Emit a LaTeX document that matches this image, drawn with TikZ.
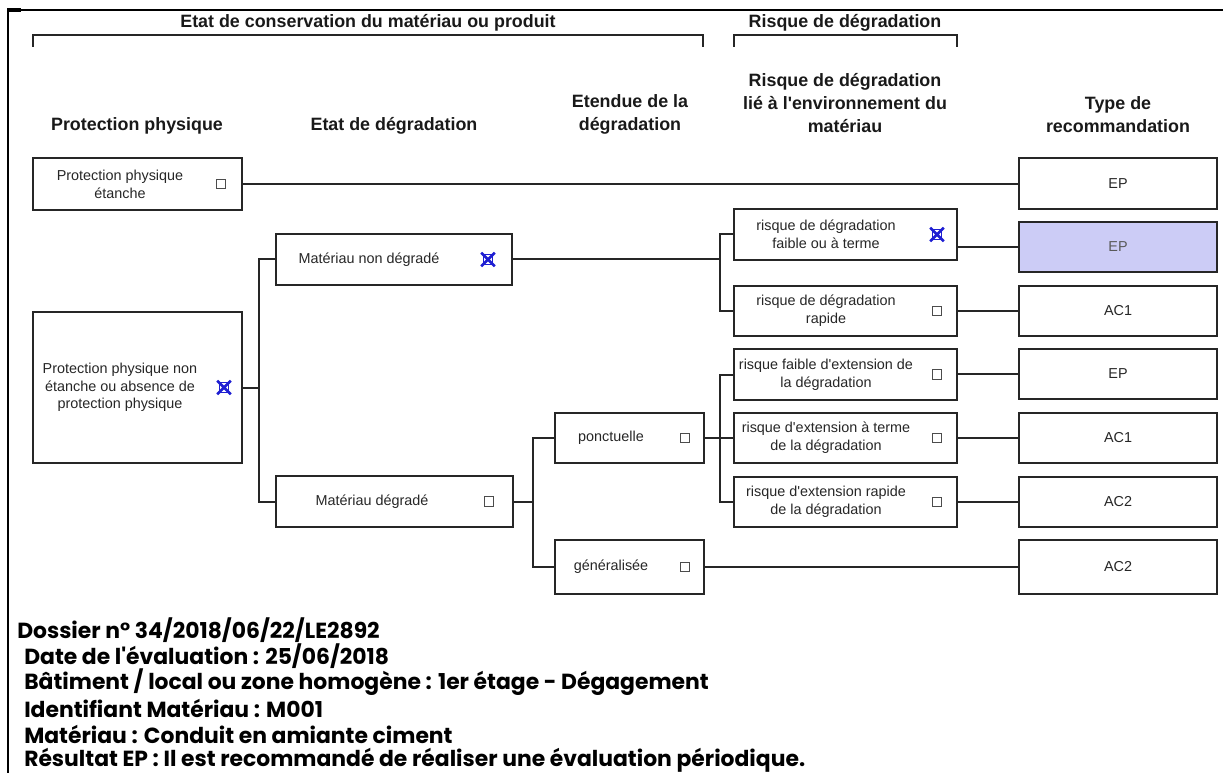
\documentclass[tikz,border=0pt]{standalone}
\usepackage{fontspec}
\setmainfont{Liberation Sans}[Ligatures=TeXOff]
\newfontfamily\infofont{Poppins}[Ligatures=TeXOff]
\usetikzlibrary{fit}
\definecolor{lav}{RGB}{204,204,246}
\definecolor{xblue}{RGB}{30,30,210}
\tikzset{
  box/.style={draw=black!85, line width=1.5pt, inner sep=0pt},
  conn/.style={draw=black!85, line width=1.5pt},
  brk/.style={draw=black!85, line width=1.5pt},
  txt/.style={align=center, inner sep=0pt, font=\fontsize{10.8}{13.3}\selectfont, text=black!85},
  hdr/.style={align=center, inner sep=0pt, font=\fontsize{13.4}{17.2}\selectfont\bfseries, text=black!90},
  info/.style={anchor=west, inner sep=0pt, font=\infofont\fontsize{16.4}{20}\selectfont\bfseries},
  chk/.style={draw=black!70, line width=0.7pt, minimum size=7.2pt, inner sep=0pt},
  chkon/.style={draw=xblue, line width=0.7pt, minimum size=7.2pt, inner sep=0pt},
  xmark/.style={draw=xblue, line width=2pt},
}
\begin{document}
\begin{tikzpicture}[x=0.75pt,y=-0.75pt]
\useasboundingbox (0,0) rectangle (1223,773);
% frame
\draw[line width=1.5pt] (8,773) -- (8,10) -- (1223,10);
\draw[line width=2.6pt] (7,10) -- (21,10);
% top headers and brackets
\node[hdr] (tA) at (368,23) {Etat de conservation du matériau ou produit};
\node[hdr] (tB) at (845,23) {Risque de dégradation};
\draw[brk] (33,47) -- (33,35) -- (703,35) -- (703,47);
\draw[brk] (734,47) -- (734,35) -- (957,35) -- (957,47);
% column headers
\node[hdr] (c1) at (137,126) {Protection physique};
\node[hdr] (c2) at (394,126) {Etat de dégradation};
\node[hdr] (c3) at (630,114.5) {Etendue de la\\dégradation};
\node[hdr] (c4) at (845,103) {Risque de dégradation\\lié à l'environnement du\\matériau};
\node[hdr] (c5) at (1118,114.5) {Type de\\recommandation};
% column 1
\node[box, fit={(33,158) (242,210)}] (ppe) {};
\node[txt] (ppeT) at (120,184) {Protection physique\\étanche};
\node[chk] (ppeC) at (221,184) {};
\node[box, fit={(33,312) (242,463)}] (ppn) {};
\node[txt] (ppnT) at (120,387.5) {Protection physique non\\étanche ou absence de\\protection physique};
\node[chkon] (ppnC) at (224,387.5) {};
\draw[xmark] ([shift={(-1.5,-1.5)}]ppnC.north west) -- ([shift={(1.5,1.5)}]ppnC.south east) ([shift={(1.5,-1.5)}]ppnC.north east) -- ([shift={(-1.5,1.5)}]ppnC.south west);
% column 2
\node[box, fit={(276,234) (512,285)}] (mnd) {};
\node[txt] (mndT) at (369,259.5) {Matériau non dégradé};
\node[chkon] (mndC) at (488,259.5) {};
\draw[xmark] ([shift={(-1.5,-1.5)}]mndC.north west) -- ([shift={(1.5,1.5)}]mndC.south east) ([shift={(1.5,-1.5)}]mndC.north east) -- ([shift={(-1.5,1.5)}]mndC.south west);
\node[box, fit={(276,476) (513,527)}] (md) {};
\node[txt] (mdT) at (372,501.5) {Matériau dégradé};
\node[chk] (mdC) at (489,501.5) {};
% column 3
\node[box, fit={(555,413) (704,463)}] (pon) {};
\node[txt] (ponT) at (611,438) {ponctuelle};
\node[chk] (ponC) at (685,438) {};
\node[box, fit={(555,540) (704,594)}] (gen) {};
\node[txt] (genT) at (611,567) {généralisée};
\node[chk] (genC) at (685,567) {};
% column 4
\node[box, fit={(734,209) (957,260)}] (r1) {};
\node[txt] (r1T) at (826,234.5) {risque de dégradation\\faible ou à terme};
\node[chkon] (r1C) at (937,234.5) {};
\draw[xmark] ([shift={(-1.5,-1.5)}]r1C.north west) -- ([shift={(1.5,1.5)}]r1C.south east) ([shift={(1.5,-1.5)}]r1C.north east) -- ([shift={(-1.5,1.5)}]r1C.south west);
\node[box, fit={(734,286) (957,336)}] (r2) {};
\node[txt] (r2T) at (826,311) {risque de dégradation\\rapide};
\node[chk] (r2C) at (937,311) {};
\node[box, fit={(734,349) (957,400)}] (r3) {};
\node[txt] (r3T) at (826,374.5) {risque faible d'extension de\\la dégradation};
\node[chk] (r3C) at (937,374.5) {};
\node[box, fit={(734,413) (957,463)}] (r4) {};
\node[txt] (r4T) at (826,438) {risque d'extension à terme\\de la dégradation};
\node[chk] (r4C) at (937,438) {};
\node[box, fit={(734,477) (957,527)}] (r5) {};
\node[txt] (r5T) at (826,502) {risque d'extension rapide\\de la dégradation};
\node[chk] (r5C) at (937,502) {};
% column 5
\node[box, fit={(1019,158) (1217,209)}] (e1) {};
\node[txt] (e1T) at (e1.center) {EP};
\node[box, fill=lav, fit={(1019,222) (1217,272)}] (e2) {};
\node[txt, text=black!65] (e2T) at (e2.center) {EP};
\node[box, fit={(1019,286) (1217,336)}] (e3) {};
\node[txt] (e3T) at (e3.center) {AC1};
\node[box, fit={(1019,349) (1217,399)}] (e4) {};
\node[txt] (e4T) at (e4.center) {EP};
\node[box, fit={(1019,413) (1217,463)}] (e5) {};
\node[txt] (e5T) at (e5.center) {AC1};
\node[box, fit={(1019,477) (1217,527)}] (e6) {};
\node[txt] (e6T) at (e6.center) {AC2};
\node[box, fit={(1019,540) (1217,594)}] (e7) {};
\node[txt] (e7T) at (e7.center) {AC2};
% junctions
\coordinate (j1) at (259,0);
\coordinate (j2) at (720,0);
\coordinate (j3) at (533,0);
% connectors
\draw[conn] (ppe.east) -- (e1.west |- ppe.east);
\draw[conn] (ppn.east) -- (ppn.east -| j1);
\draw[conn] (mnd.west) -- (mnd.west -| j1) -- (md.west -| j1) -- (md.west);
\draw[conn] (mnd.east) -- (mnd.east -| j2);
\draw[conn] (r1.west) -- (r1.west -| j2) -- (r2.west -| j2) -- (r2.west);
\draw[conn] (md.east) -- (md.east -| j3);
\draw[conn] (pon.west) -- (pon.west -| j3) -- (gen.west -| j3) -- (gen.west);
\draw[conn] (pon.east) -- (pon.east -| j2);
\draw[conn] (r3.west) -- (r3.west -| j2) -- (r5.west -| j2) -- (r5.west);
\draw[conn] (r4.west) -- (r4.west -| j2);
\draw[conn] (e2.west -| r1.east) -- (e2.west);
\draw[conn] (e3.west -| r2.east) -- (e3.west);
\draw[conn] (e4.west -| r3.east) -- (e4.west);
\draw[conn] (e5.west -| r4.east) -- (e5.west);
\draw[conn] (e6.west -| r5.east) -- (e6.west);
\draw[conn] (gen.east) -- (e7.west |- gen.east);
% info block
\node[info] (i1) at (17,630) {Dossier n° 34/2018/06/22/LE2892};
\node[info] (i2) at (24,656) {Date de l'évaluation : 25/06/2018};
\node[info] (i3) at (24,682) {Bâtiment / local ou zone homogène : 1er étage - Dégagement};
\node[info] (i4) at (24,708) {Identifiant Matériau : M001};
\node[info] (i5) at (24,734) {Matériau : Conduit en amiante ciment};
\node[info] (i6) at (24,760) {Résultat EP : Il est recommandé de réaliser une évaluation périodique.};
\end{tikzpicture}
\end{document}
